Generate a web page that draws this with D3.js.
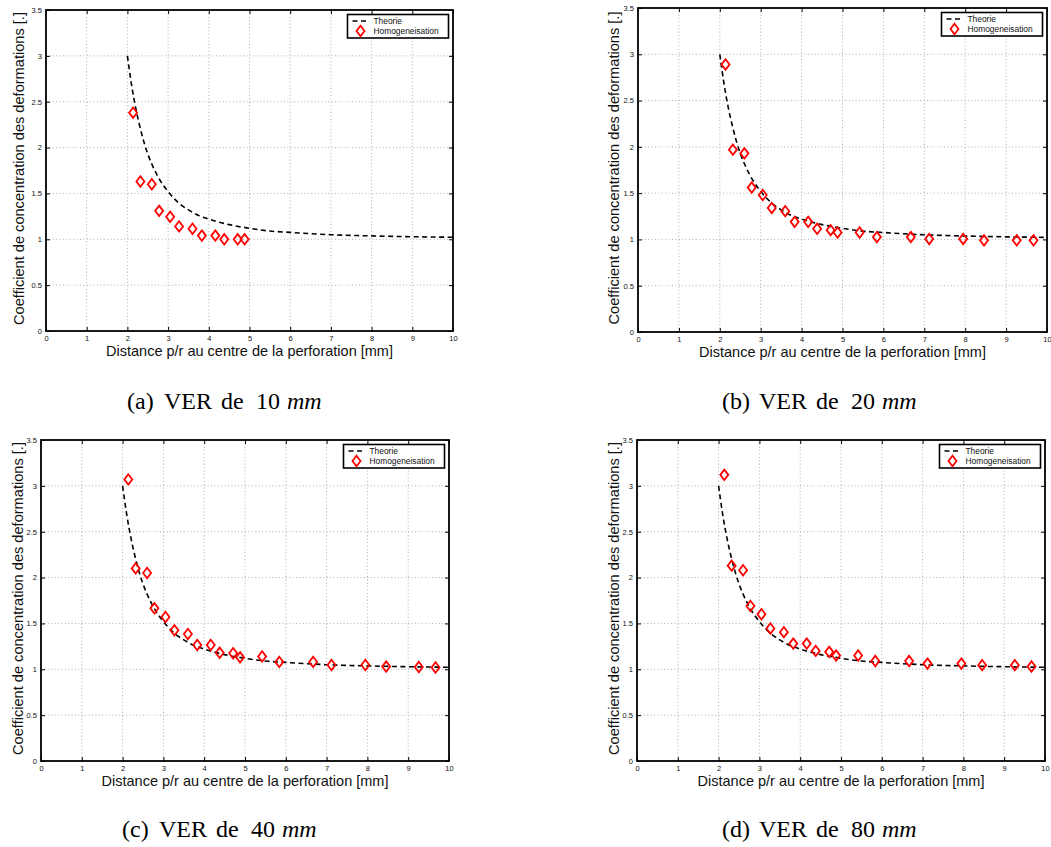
<!DOCTYPE html>
<html>
<head>
<meta charset="utf-8">
<script src="https://cdn.jsdelivr.net/npm/d3@7"></script>
<style>
  body { margin: 0; background: #fff; }
  svg { display: block; }
</style>
</head>
<body>
<script>
// ---------------- DATA ----------------
const xTicks = [0, 1, 2, 3, 4, 5, 6, 7, 8, 9, 10];
const xTickLabels = ["0", "1", "2", "3", "4", "5", "6", "7", "8", "9", "10"];
const yTicks = [0, 0.5, 1, 1.5, 2, 2.5, 3, 3.5];
const yTickLabels = ["0", "0.5", "1", "1.5", "2", "2.5", "3", "3.5"];

// Theoretical curve
const theoryX = [2, 2.1, 2.2, 2.3, 2.4, 2.5, 2.6, 2.8, 3, 3.25, 3.5, 3.75, 4, 4.5, 5, 5.5, 6, 7, 8, 9, 10];
const theoryY = [3.0, 2.69, 2.44, 2.24, 2.07, 1.93, 1.82, 1.645, 1.52, 1.40, 1.32, 1.26, 1.22, 1.16, 1.12, 1.09, 1.075, 1.05, 1.037, 1.028, 1.022];

// Homogenisation points: distances
const homogX = [2.14, 2.32, 2.60, 2.78, 3.05, 3.27, 3.60, 3.83, 4.16, 4.38, 4.71, 4.88, 5.42, 5.84, 6.67, 7.12, 7.95, 8.46, 9.26, 9.67];
// values for each VER size
const homog10 = [2.38, 1.63, 1.60, 1.31, 1.245, 1.14, 1.115, 1.04, 1.04, 1.00, 1.00, 1.00];
const homog20 = [2.89, 1.97, 1.93, 1.56, 1.48, 1.34, 1.305, 1.19, 1.19, 1.115, 1.10, 1.075, 1.075, 1.025, 1.025, 1.005, 1.005, 0.99, 0.99, 0.99];
const homog40 = [3.07, 2.10, 2.05, 1.665, 1.57, 1.425, 1.385, 1.265, 1.265, 1.18, 1.175, 1.13, 1.14, 1.08, 1.08, 1.047, 1.047, 1.03, 1.025, 1.02];
const homog80 = [3.12, 2.13, 2.08, 1.69, 1.60, 1.445, 1.405, 1.28, 1.28, 1.20, 1.19, 1.15, 1.15, 1.09, 1.09, 1.062, 1.062, 1.045, 1.045, 1.03];

const panelLetters = ["a", "b", "c", "d"];
const verSizes = ["10", "20", "40", "80"];
const legendLabels = ["Theorie", "Homogeneisation"];
const xLabel = "Distance p/r au centre de la perforation [mm]";
const yLabel = "Coefficient de concentration des deformations [.]";

// ---------------- LAYOUT ----------------
const W = 1051, H = 847;
const svg = d3.select("body").append("svg").attr("width", W).attr("height", H);

const layout = [
  { l: 46,  r: 453,  t: 10,  b: 331, ylabX: 23.5, capX: 127 },
  { l: 638, r: 1047, t: 8,   b: 332, ylabX: 619,  capX: 722 },
  { l: 41,  r: 449,  t: 440, b: 761, ylabX: 23,   capX: 122 },
  { l: 637, r: 1045, t: 440, b: 761, ylabX: 619,  capX: 722 }
];
const capBaselines = [409, 409, 837, 837];
const seriesList = [homog10, homog20, homog40, homog80];

const diamond = "M0,-5.2L4,0L0,5.2L-4,0Z";
const FONT = "'Liberation Sans', Arial, Helvetica, sans-serif";

layout.forEach((L, i) => {
  const g = svg.append("g");
  const x = d3.scaleLinear().domain([0, 10]).range([L.l, L.r]);
  const y = d3.scaleLinear().domain([0, 3.5]).range([L.b, L.t]);

  // grid
  const grid = g.append("g").attr("stroke", "#9a9a9a").attr("stroke-width", 0.8)
    .attr("stroke-dasharray", "1,2.4");
  grid.selectAll("line.gx").data(xTicks.slice(1, -1)).join("line")
    .attr("x1", d => x(d)).attr("x2", d => x(d)).attr("y1", L.t).attr("y2", L.b);
  grid.selectAll("line.gy").data(yTicks.slice(1, -1)).join("line")
    .attr("y1", d => y(d)).attr("y2", d => y(d)).attr("x1", L.l).attr("x2", L.r);

  // axes (inward ticks on all sides)
  const styleAxis = sel => {
    sel.select(".domain").remove();
    sel.selectAll(".tick line").attr("stroke", "#000").attr("stroke-width", 1);
    sel.selectAll(".tick text").attr("font-family", FONT).attr("font-size", 7.5).attr("fill", "#111");
  };
  g.append("g").attr("transform", `translate(0,${L.b})`)
    .call(d3.axisBottom(x).tickValues(xTicks).tickFormat((d, k) => xTickLabels[k])
      .tickSizeInner(-4).tickSizeOuter(0).tickPadding(4.5)).call(styleAxis);
  g.append("g").attr("transform", `translate(0,${L.t})`)
    .call(d3.axisTop(x).tickValues(xTicks).tickFormat("")
      .tickSizeInner(-4).tickSizeOuter(0)).call(styleAxis);
  g.append("g").attr("transform", `translate(${L.l},0)`)
    .call(d3.axisLeft(y).tickValues(yTicks).tickFormat((d, k) => yTickLabels[k])
      .tickSizeInner(-4).tickSizeOuter(0).tickPadding(4)).call(styleAxis);
  g.append("g").attr("transform", `translate(${L.r},0)`)
    .call(d3.axisRight(y).tickValues(yTicks).tickFormat("")
      .tickSizeInner(-4).tickSizeOuter(0)).call(styleAxis);

  // frame
  g.append("rect").attr("x", L.l).attr("y", L.t)
    .attr("width", L.r - L.l).attr("height", L.b - L.t)
    .attr("fill", "none").attr("stroke", "#000").attr("stroke-width", 1.8);

  // theory curve
  const line = d3.line().x(d => x(d[0])).y(d => y(d[1])).curve(d3.curveMonotoneX);
  g.append("path").datum(theoryX.map((v, k) => [v, theoryY[k]]))
    .attr("d", line).attr("fill", "none").attr("stroke", "#000")
    .attr("stroke-width", 1.6).attr("stroke-dasharray", "5,3.5");

  // homogenisation markers
  const vals = seriesList[i];
  g.selectAll("path.mk").data(vals.map((v, k) => [homogX[k], v])).join("path")
    .attr("class", "mk")
    .attr("d", diamond)
    .attr("transform", d => `translate(${x(d[0])},${y(d[1])})`)
    .attr("fill", "none").attr("stroke", "#ff0000").attr("stroke-width", 1.8);

  // legend
  const lw = 101, lh = 23.5;
  const lx = L.r - 4.5 - lw, ly = L.t + 4.5;
  const lg = g.append("g").attr("transform", `translate(${lx},${ly})`);
  lg.append("rect").attr("width", lw).attr("height", lh)
    .attr("fill", "#fff").attr("stroke", "#000").attr("stroke-width", 1.6);
  lg.append("line").attr("x1", 5).attr("x2", 22).attr("y1", 6.5).attr("y2", 6.5)
    .attr("stroke", "#000").attr("stroke-width", 1.6).attr("stroke-dasharray", "5,3.5");
  lg.append("path").attr("d", diamond).attr("transform", "translate(13,16.5)")
    .attr("fill", "none").attr("stroke", "#ff0000").attr("stroke-width", 1.8);
  lg.selectAll("text").data(legendLabels).join("text")
    .attr("x", 26).attr("y", (d, k) => 6.5 + k * 10 + 3)
    .attr("font-family", FONT).attr("font-size", 8.4).attr("fill", "#111")
    .text(d => d);

  // axis labels
  g.append("text").attr("x", (L.l + L.r) / 2).attr("y", L.b + 25)
    .attr("text-anchor", "middle").attr("font-family", FONT).attr("font-size", 14.5)
    .attr("fill", "#111").text(xLabel);
  g.append("text")
    .attr("transform", `translate(${L.ylabX},${(L.t + L.b) / 2 - 2}) rotate(-90)`)
    .attr("text-anchor", "middle").attr("font-family", FONT).attr("font-size", 14.6)
    .attr("fill", "#111").text(yLabel);

  // caption
  const cap = g.append("text").attr("y", capBaselines[i])
    .attr("font-family", "'Liberation Serif', 'Times New Roman', serif")
    .attr("font-size", 24).attr("fill", "#000");
  cap.append("tspan").attr("x", L.capX).text(`(${panelLetters[i]})`);
  cap.append("tspan").attr("x", L.capX + 37).text("VER");
  cap.append("tspan").attr("x", L.capX + 94).text("de");
  cap.append("tspan").attr("x", L.capX + 129).text(verSizes[i]);
  cap.append("tspan").attr("x", L.capX + 160).attr("font-style", "italic").text("mm");
});
</script>
</body>
</html>
